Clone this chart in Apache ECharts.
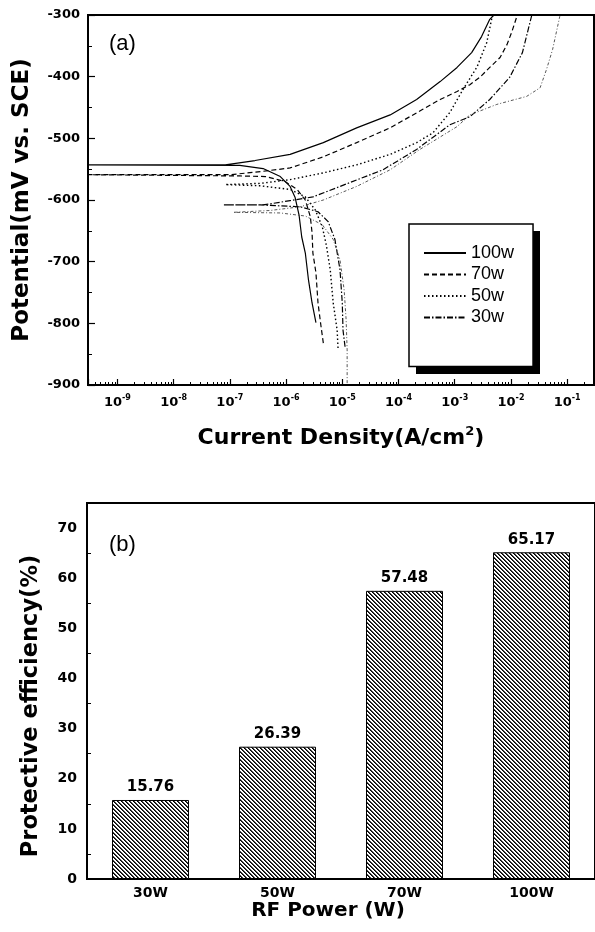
<!DOCTYPE html>
<html><head><meta charset="utf-8">
<script src="https://cdn.jsdelivr.net/npm/echarts@6/dist/echarts.min.js"></script>
<style>html,body{margin:0;padding:0;background:#fff}#c{width:595px;height:932px}</style>
</head><body><div id="c"></div>
<script>
// ---------- (a) polarization curves: current density (A/cm2) and potential (mV vs SCE)
const i100 = [3.4e-6, 2.9e-6, 2.5e-6, 2.2e-6, 1.9e-6, 1.7e-6, 1.45e-6, 1.18e-6, 7.9e-7, 3.9e-7, 1.5e-7, 3.1e-10,
              8.3e-8, 2.8e-7, 1.18e-6, 4.6e-6, 1.8e-5, 7.1e-5, 2.1e-4, 5.5e-4, 1.1e-3, 2.0e-3, 3.0e-3, 4.2e-3, 5.0e-3];
const e100 = [-799, -767, -729, -686, -660, -624, -596, -578, -562, -549, -544, -543,
              -543, -536, -526, -507, -483, -462, -437, -408, -385, -361, -335, -307, -300];

const i70 = [4.6e-6, 4.2e-6, 3.7e-6, 3.4e-6, 3.0e-6, 2.9e-6, 2.7e-6, 2.2e-6, 1.57e-6, 9.6e-7, 4.3e-7, 1.5e-7, 3.1e-10,
             1.0e-7, 3.5e-7, 1.18e-6, 4.6e-6, 1.8e-5, 7.1e-5, 2.7e-4, 5.5e-4, 1.1e-3, 1.86e-3, 2.8e-3, 4.2e-3, 6.4e-3, 8.5e-3, 1.04e-2, 1.3e-2];
const e70 = [-832, -806, -767, -718, -686, -653, -627, -600, -583, -570, -562, -561, -559,
             -559, -554, -548, -530, -507, -483, -453, -437, -424, -413, -401, -385, -369, -348, -327, -300];

const i50 = [8.4e-6, 8.1e-6, 6.9e-6, 6.1e-6, 5.2e-6, 4.4e-6, 3.3e-6, 2.2e-6, 1.2e-6, 3.5e-7, 8.3e-8,
             3.5e-7, 1.18e-6, 4.6e-6, 1.8e-5, 7.1e-5, 2.1e-4, 4.1e-4, 8.2e-4, 1.4e-3, 2.5e-3, 3.7e-3, 4.7e-3];
const e50 = [-840, -811, -767, -713, -673, -643, -616, -595, -583, -577, -575,
             -573, -567, -556, -543, -526, -507, -491, -458, -421, -384, -345, -300];

const i30 = [1.12e-5, 1.03e-5, 1.0e-5, 9.1e-6, 7.4e-6, 5.6e-6, 3.7e-6, 1.78e-6, 3.5e-7, 7.6e-8,
             3.9e-7, 1.18e-6, 3.0e-6, 9.1e-6, 5.3e-5, 2.1e-4, 8.2e-4, 1.86e-3, 4.2e-3, 9.5e-3, 1.6e-2, 2.35e-2];
const e30 = [-838, -811, -767, -713, -664, -635, -619, -611, -608, -608,
             -608, -601, -595, -578, -551, -518, -478, -465, -437, -401, -361, -300];

// fifth (unlabelled) curve
const iSub = [1.22e-5, 1.22e-5, 1.17e-5, 1.08e-5, 9.1e-6, 6.9e-6, 4.4e-6, 2.2e-6, 7.9e-7, 1.15e-7,
              5.2e-7, 1.78e-6, 4.6e-6, 1.8e-5, 7.1e-5, 2.4e-4, 1.1e-3, 1.86e-3, 5.6e-3, 1.9e-2, 3.3e-2, 4.3e-2, 5.5e-2, 7.4e-2];
const eSub = [-897, -843, -794, -746, -697, -664, -640, -626, -621, -620,
              -617, -611, -600, -578, -551, -518, -481, -462, -445, -432, -418, -388, -356, -302];

const legendNames = ['100w', '70w', '50w', '30w'];

// ---------- (b) protective efficiency
const rfPower = ['30W', '50W', '70W', '100W'];
const efficiency = [15.76, 26.39, 57.48, 65.17];

// ---------- axis ranges / ticks
const potMin = -900, potMax = -300, potStep = 100;
const curMin = 3e-10, curMax = 0.3;
const effMin = 0, effMax = 75, effStep = 10;

function zip(I, E) { return I.map((v, k) => [v, E[k]]); }

// hatch pattern for bars
const pc = document.createElement('canvas'); pc.width = 4; pc.height = 4;
const pctx = pc.getContext('2d');
pctx.fillStyle = '#fff'; pctx.fillRect(0, 0, 4, 4);
for (let k = 0; k < 4; k++) {
  pctx.fillStyle = '#000'; pctx.fillRect(k, k, 1, 1);
  pctx.fillStyle = '#444'; pctx.fillRect((k + 1) % 4, k, 1, 1);
}

const BF = 'DejaVu Sans';
const tickLabel = { fontFamily: BF, fontSize: 13, fontWeight: 'bold', color: '#000' };
const titleStyle = { fontFamily: BF, fontSize: 20, fontWeight: 'bold', color: '#000' };

const chart = echarts.init(document.getElementById('c'), null, { renderer: 'canvas' });
const lineBase = { type: 'line', xAxisIndex: 0, yAxisIndex: 0, symbol: 'none', showSymbol: false, animation: false };

chart.setOption({
  animation: false,
  backgroundColor: '#fff',
  title: [
    { text: '(a)', left: 104, top: 28, textStyle: { fontFamily: 'Liberation Sans', fontSize: 22, fontWeight: 'normal', color: '#000' } },
    { text: '(b)', left: 104, top: 529, textStyle: { fontFamily: 'Liberation Sans', fontSize: 22, fontWeight: 'normal', color: '#000' } }
  ],
  graphic: [
    { type: 'rect', z: 1, shape: { x: 416, y: 231, width: 124, height: 143 }, style: { fill: '#000' } }
  ],
  legend: {
    data: legendNames,
    orient: 'vertical',
    left: 409, top: 224, z: 10,
    backgroundColor: '#fff',
    borderColor: '#000', borderWidth: 1.5,
    padding: [20, 19, 40, 14],
    itemWidth: 42, itemHeight: 14, itemGap: 3.5,
    itemStyle: { color: 'rgba(0,0,0,0)', borderWidth: 0, opacity: 0 },
    textStyle: { fontFamily: 'Liberation Sans', fontSize: 18, lineHeight: 18, color: '#000' }
  },
  grid: [
    { left: 88, top: 15, width: 506, height: 370, show: true, borderColor: '#000', borderWidth: 2, backgroundColor: 'transparent' },
    { left: 87, top: 503, width: 510, height: 376, show: true, borderColor: '#000', borderWidth: 2, backgroundColor: 'transparent' }
  ],
  xAxis: [
    {
      gridIndex: 0, type: 'log', logBase: 10, min: curMin, max: curMax, splitNumber: 9,
      axisLine: { lineStyle: { color: '#000', width: 2 } },
      axisTick: { inside: true, length: 6, lineStyle: { color: '#000', width: 1.2 } },
      minorTick: { show: true, splitNumber: 9, length: 3, lineStyle: { color: '#000', width: 1 } },
      splitLine: { show: false },
      axisLabel: {
        showMinLabel: false, showMaxLabel: false, margin: 9,
        formatter: function (v) { return '{n|10}{s|' + Math.round(Math.log10(v)) + '}'; },
        rich: {
          n: { fontFamily: BF, fontSize: 13, fontWeight: 'bold', color: '#000', lineHeight: 18 },
          s: { fontFamily: BF, fontSize: 8, fontWeight: 'bold', color: '#000', verticalAlign: 'top', lineHeight: 9 }
        }
      },
      name: 'Current Density(A/cm{s|2})', nameLocation: 'middle', nameGap: 40,
      nameTextStyle: Object.assign({}, titleStyle, { fontSize: 22, lineHeight: 26, rich: { s: { fontFamily: BF, fontSize: 13, fontWeight: 'bold', color: '#000', verticalAlign: 'top', lineHeight: 13 } } })
    },
    {
      gridIndex: 1, type: 'category', data: rfPower,
      axisLine: { lineStyle: { color: '#000', width: 2 } },
      axisTick: { show: false },
      axisLabel: Object.assign({}, tickLabel, { fontSize: 14, margin: 7 }),
      name: 'RF Power (W)', nameLocation: 'middle', nameGap: 22,
      nameTextStyle: Object.assign({}, titleStyle, { padding: [0, 26, 0, 0] })
    }
  ],
  yAxis: [
    {
      gridIndex: 0, type: 'value', min: potMin, max: potMax, interval: potStep,
      axisLine: { show: true, lineStyle: { color: '#000', width: 2 } },
      axisTick: { inside: true, length: 7, lineStyle: { color: '#000', width: 1.2 } },
      minorTick: { show: true, splitNumber: 2, length: 4, lineStyle: { color: '#000', width: 1 } },
      splitLine: { show: false },
      axisLabel: Object.assign({}, tickLabel, { margin: 8 }),
      name: 'Potential(mV vs. SCE)', nameLocation: 'middle', nameGap: 54,
      nameTextStyle: Object.assign({}, titleStyle, { fontSize: 23 })
    },
    {
      gridIndex: 1, type: 'value', min: effMin, max: effMax, interval: effStep,
      axisLine: { show: true, lineStyle: { color: '#000', width: 2 } },
      axisTick: { inside: true, length: 7, lineStyle: { color: '#000', width: 1.2 } },
      minorTick: { show: true, splitNumber: 2, length: 4, lineStyle: { color: '#000', width: 1 } },
      splitLine: { show: false },
      axisLabel: Object.assign({}, tickLabel, { fontSize: 14, margin: 10, showMaxLabel: false }),
      name: 'Protective efficiency(%)', nameLocation: 'middle', nameGap: 44,
      nameTextStyle: Object.assign({}, titleStyle, { fontSize: 22.5, padding: [0, 30, 0, 0] })
    }
  ],
  series: [
    Object.assign({}, lineBase, { name: '100w', data: zip(i100, e100), lineStyle: { color: '#000', width: 1.2, type: 'solid' }, itemStyle: { color: '#000' } }),
    Object.assign({}, lineBase, { name: '70w', data: zip(i70, e70), lineStyle: { color: '#000', width: 1.2, type: [5, 3] }, itemStyle: { color: '#000' } }),
    Object.assign({}, lineBase, { name: '50w', data: zip(i50, e50), lineStyle: { color: '#000', width: 1.4, type: [1.5, 2.5] }, itemStyle: { color: '#000' } }),
    Object.assign({}, lineBase, { name: '30w', data: zip(i30, e30), lineStyle: { color: '#000', width: 1.2, type: [6, 2, 1.5, 2] }, itemStyle: { color: '#000' } }),
    Object.assign({}, lineBase, { name: 'substrate', data: zip(iSub, eSub), lineStyle: { color: '#444', width: 0.9, type: [3, 2, 1, 2] }, itemStyle: { color: '#444' } }),
    {
      type: 'bar', xAxisIndex: 1, yAxisIndex: 1, data: efficiency, barWidth: 77,
      itemStyle: { color: { image: pc, repeat: 'repeat' }, borderColor: '#000', borderWidth: 1 },
      label: { show: true, position: 'top', distance: 5, fontFamily: BF, fontSize: 15, fontWeight: 'bold', color: '#000',
               formatter: function (p) { return p.value.toFixed(2); } }
    }
  ]
});
</script></body></html>
